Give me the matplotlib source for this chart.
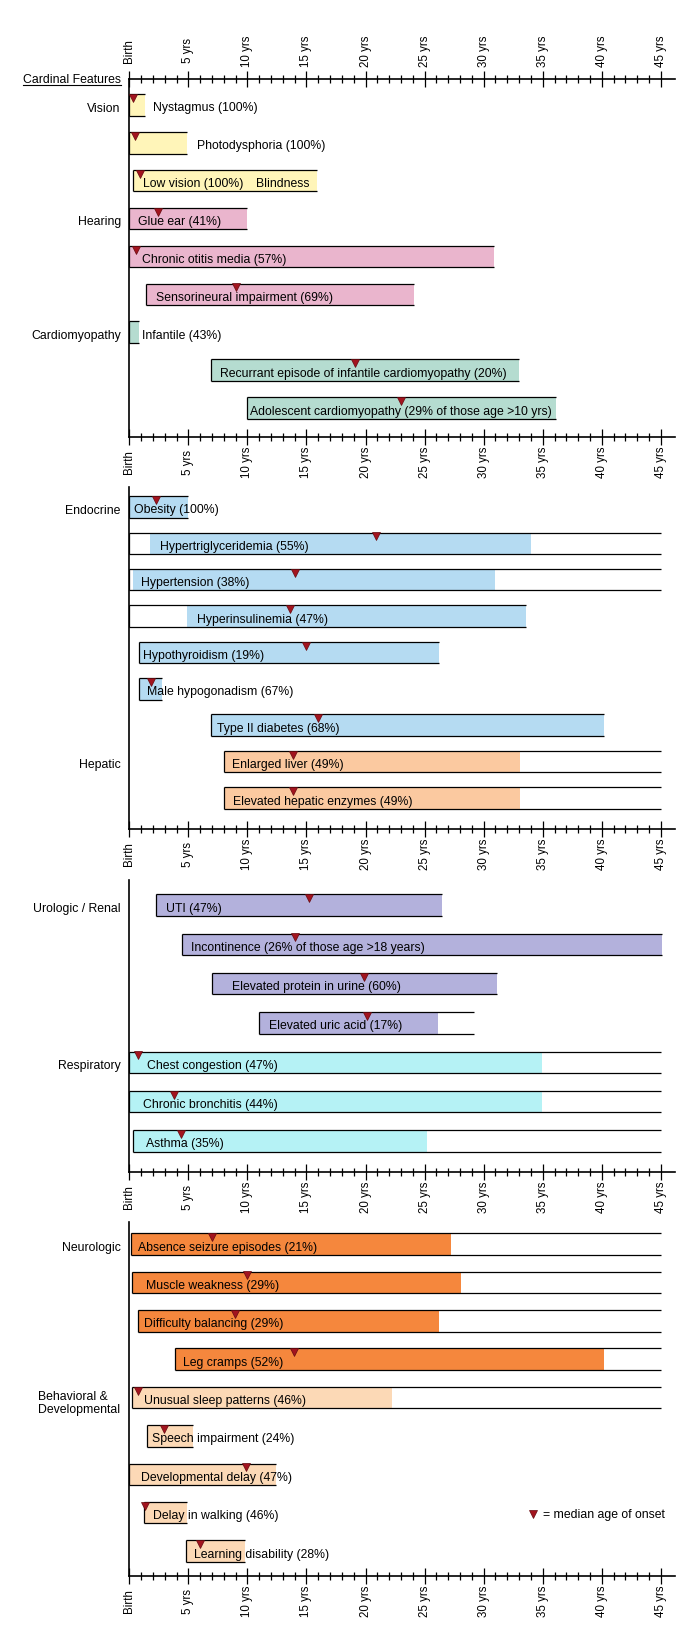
import matplotlib
matplotlib.use('Agg')
import matplotlib.pyplot as plt
import matplotlib.transforms as mtransforms
from matplotlib.lines import Line2D
import numpy as np

plt.rcParams['font.family'] = ['Liberation Sans', 'DejaVu Sans']

# ======================= DATA =======================
tick_values = [0, 5, 10, 15, 20, 25, 30, 35, 40, 45]
tick_labels = ['Birth', '5 yrs', '10 yrs', '15 yrs', '20 yrs', '25 yrs',
               '30 yrs', '35 yrs', '40 yrs', '45 yrs']
NA = np.nan

# Panel 1 - cardinal features
p1_labels = ['Nystagmus (100%)', 'Photodysphoria (100%)', 'Low vision (100%)',
             'Glue ear (41%)', 'Chronic otitis media (57%)', 'Sensorineural impairment (69%)',
             'Infantile (43%)', 'Recurrant episode of infantile cardiomyopathy (20%)',
             'Adolescent cardiomyopathy (29% of those age >10 yrs)']
p1_extra = ['', '', 'Blindness', '', '', '', '', '', '']
p1_groups = ['Vision', '', '', 'Hearing', '', '', 'Cardiomyopathy', '', '']
p1_line_start = [0, 0, 0.35, 0, 0, 1.4, 0, 6.9, 10.0]
p1_fill_start = [0, 0, 0.35, 0, 0, 1.4, 0, 6.9, 10.0]
p1_fill_end = [1.35, 4.9, 15.9, 9.95, 30.9, 24.1, 0.85, 33.0, 36.1]
p1_line_end = [1.35, 4.9, 15.9, 9.95, 30.9, 24.1, 0.85, 33.0, 36.1]
p1_median = [0.3, 0.5, 0.9, 2.4, 0.57, 9.0, NA, 19.1, 23.0]

# Panel 2 - endocrine / hepatic
p2_labels = ['Obesity (100%)', 'Hypertriglyceridemia (55%)', 'Hypertension (38%)',
             'Hyperinsulinemia (47%)', 'Hypothyroidism (19%)', 'Male hypogonadism (67%)',
             'Type II diabetes (68%)', 'Enlarged liver (49%)', 'Elevated hepatic enzymes (49%)']
p2_groups = ['Endocrine', '', '', '', '', '', '', 'Hepatic', '']
p2_line_start = [0, 0, 0, 0, 0.85, 0.85, 6.9, 8.04, 8.04]
p2_fill_start = [0, 1.75, 0.3, 4.9, 0.85, 0.85, 6.9, 8.04, 8.04]
p2_fill_end = [4.95, 34.0, 31.0, 33.6, 26.2, 2.8, 40.2, 33.1, 33.1]
p2_line_end = [4.95, 45, 45, 33.6, 26.2, 2.8, 40.2, 45, 45]
p2_median = [2.3, 20.9, 14.0, 13.6, 15.0, 1.8, 15.95, 13.9, 13.9]

# Panel 3 - urologic / respiratory
p3_labels = ['UTI (47%)', 'Incontinence (26% of those age >18 years)',
             'Elevated protein in urine (60%)', 'Elevated uric acid (17%)',
             'Chest congestion (47%)', 'Chronic bronchitis (44%)', 'Asthma (35%)']
p3_groups = ['Urologic / Renal', '', '', '', 'Respiratory', '', '']
p3_line_start = [2.3, 4.5, 7.0, 11.0, 0, 0, 0.3]
p3_fill_start = [2.3, 4.5, 7.0, 11.0, 0.1, 0, 0.3]
p3_fill_end = [26.5, 45.1, 31.1, 26.1, 34.9, 34.9, 25.2]
p3_line_end = [26.5, 45.1, 31.1, 29.2, 45, 45, 45]
p3_median = [15.2, 14.0, 19.9, 20.1, 0.76, 3.8, 4.35]

# Panel 4 - neurologic / behavioral
p4_labels = ['Absence seizure episodes (21%)', 'Muscle weakness (29%)',
             'Difficulty balancing (29%)', 'Leg cramps (52%)',
             'Unusual sleep patterns (46%)', 'Speech impairment (24%)',
             'Developmental delay (47%)', 'Delay in walking (46%)',
             'Learning disability (28%)']
p4_groups = ['Neurologic', '', '', '', 'Behavioral &\nDevelopmental', '', '', '', '']
p4_line_start = [0.17, 0.25, 0.76, 3.9, 0.25, 1.5, 0, 1.24, 4.8]
p4_fill_start = [0.17, 0.25, 0.76, 3.9, 0.25, 1.5, 0, 1.24, 4.8]
p4_fill_end = [27.2, 28.1, 26.2, 40.2, 22.2, 5.4, 12.4, 4.86, 9.8]
p4_line_end = [45, 45, 45, 45, 45, 5.4, 12.4, 4.86, 9.8]
p4_median = [7.0, 9.94, 8.98, 13.95, 0.76, 2.9, 9.85, 1.33, 6.0]

legend_label = '= median age of onset'

# ======================= LAYOUT / STYLE =======================
W, H, DPI = 689, 1644, 100
X0_PX, X1_PX = 129.3, 675.0
XMAX = 46.2
BAR_PX = 21.5
FS = 8.85
TICK_FS = 8.3
TEXT_DROP = 6.5
MARKER_PX = 7.6

YELLOW, PINK, GREEN = '#FFF5B9', '#EAB5CD', '#B5DCD0'
BLUE, PEACH = '#B5DBF2', '#FBC9A0'
LAV, CYAN = '#B3B1DC', '#B5F2F5'
ORANGE, PALE = '#F5873D', '#FCD9B6'
MRED, MEDGE = '#A3141F', '#660A10'

p1_colors = [YELLOW] * 3 + [PINK] * 3 + [GREEN] * 3
p2_colors = [BLUE] * 7 + [PEACH] * 2
p3_colors = [LAV] * 4 + [CYAN] * 3
p4_colors = [ORANGE] * 4 + [PALE] * 5

# label x positions (yrs)
p1_text_x = [1.98, 5.7, 1.16, 0.76, 1.05, 2.24, 1.1, 7.7, 10.2]
p1_extra_x = [0, 0, 10.73, 0, 0, 0, 0, 0, 0]
p2_text_x = [0.42, 2.62, 1.02, 5.7, 1.19, 1.47, 7.45, 8.72, 8.8]
p3_text_x = [3.08, 5.22, 8.67, 11.85, 1.47, 1.13, 1.41]
p4_text_x = [0.71, 1.44, 1.24, 4.57, 1.27, 1.9, 1.02, 2.03, 5.5]

# panel geometry in px: top, bottom, first row centre, last row centre
P1_GEOM = (79, 437, 105, 408)
P2_GEOM = (487, 829, 507, 798)
P3_GEOM = (880, 1172, 905, 1141)
P4_GEOM = (1222, 1576, 1244, 1551)

fig = plt.figure(figsize=(W / DPI, H / DPI), dpi=DPI)


def px_off(dx, dy):
    return mtransforms.ScaledTranslation(dx / DPI, dy / DPI, fig.dpi_scale_trans)


def style_xaxis(axis_obj, pad_px):
    axis_obj.set_xticks(tick_values)
    axis_obj.set_xticklabels(tick_labels, rotation=90, fontsize=TICK_FS)
    axis_obj.set_xticks([v for v in range(0, 46) if v % 5], minor=True)
    pad = pad_px * 0.72 - 5.76
    kw = dict(direction='inout', width=0.9, color='black')
    axis_obj.tick_params(axis='x', which='major', length=11.52, pad=pad, **kw)
    axis_obj.tick_params(axis='x', which='minor', length=5.76, **kw)
    for lab in axis_obj.get_xticklabels():
        lab.set_va('center')


def draw_panel(geom, labels, ls, fs, fe, le, med, groups, colors, text_x,
               extra=None, extra_x=None, top_axis=False):
    top, bot, first, last = geom
    n = len(labels)
    s = (last - first) / (n - 1)
    ax = fig.add_axes([X0_PX / W, 1 - bot / H, (X1_PX - X0_PX) / W, (bot - top) / H])
    ax.set_xlim(0, XMAX)
    ax.set_ylim((n - 1) + (bot - last) / s, -(first - top) / s)
    h = BAR_PX / s
    y = np.arange(n)
    ls, fs, fe, le = map(np.asarray, (ls, fs, fe, le))

    ax.barh(y, fe - fs, left=fs, height=h, color=colors, lw=0, zorder=2)
    ax.hlines(np.concatenate([y - h / 2, y + h / 2]), np.tile(ls, 2), np.tile(le, 2),
              color='black', lw=0.9, zorder=3)
    ax.vlines(ls, y - h / 2, y + h / 2, color='black', lw=0.9, zorder=3)

    ttr = ax.transData + px_off(0, -TEXT_DROP)
    for i in range(n):
        ax.text(text_x[i], y[i], labels[i], transform=ttr, va='baseline', ha='left',
                fontsize=FS, zorder=4)
        if extra is not None and extra[i]:
            ax.text(extra_x[i], y[i], extra[i], transform=ttr, va='baseline', ha='left',
                    fontsize=FS, zorder=4)

    mtr = ax.transData + px_off(0, -MARKER_PX / 2)
    ax.plot(med, y - h / 2, ls='none', marker='v', ms=MARKER_PX * 0.72,
            mfc=MRED, mec=MEDGE, mew=0.5, transform=mtr, zorder=5, clip_on=False)

    gtr = ax.get_yaxis_transform()
    for i, g in enumerate(groups):
        if not g:
            continue
        if '\n' in g:
            ax.text(0, y[i], g, transform=gtr + px_off(-9.5, -6), ha='right', va='center',
                    multialignment='left', fontsize=FS, linespacing=1.22)
        else:
            ax.text(0, y[i], g, transform=gtr + px_off(-8.5, -TEXT_DROP), ha='right',
                    va='baseline', fontsize=FS)

    for sp in ('right', 'top'):
        ax.spines[sp].set_visible(False)
    ax.spines['left'].set_linewidth(1.2)
    ax.spines['bottom'].set_linewidth(1.2)
    ax.set_yticks([])
    style_xaxis(ax, 25)

    if top_axis:
        sec = ax.secondary_xaxis('top')
        sec.spines['top'].set_linewidth(1.2)
        style_xaxis(sec, 28)
    return ax


ax1 = draw_panel(P1_GEOM, p1_labels, p1_line_start, p1_fill_start, p1_fill_end,
                 p1_line_end, p1_median, p1_groups, p1_colors, p1_text_x,
                 extra=p1_extra, extra_x=p1_extra_x, top_axis=True)
ax2 = draw_panel(P2_GEOM, p2_labels, p2_line_start, p2_fill_start, p2_fill_end,
                 p2_line_end, p2_median, p2_groups, p2_colors, p2_text_x)
ax3 = draw_panel(P3_GEOM, p3_labels, p3_line_start, p3_fill_start, p3_fill_end,
                 p3_line_end, p3_median, p3_groups, p3_colors, p3_text_x)
ax4 = draw_panel(P4_GEOM, p4_labels, p4_line_start, p4_fill_start, p4_fill_end,
                 p4_line_end, p4_median, p4_groups, p4_colors, p4_text_x)

# "Cardinal Features" heading with underline
cf = fig.text(121 / W, 1 - 83 / H, 'Cardinal Features', ha='right', va='baseline', fontsize=FS)
fig.canvas.draw()
bb = cf.get_window_extent()
uy = H - 84.8
fig.add_artist(Line2D([bb.x0 / W, bb.x1 / W], [uy / H, uy / H], color='black', lw=0.8,
                      transform=fig.transFigure))

# legend
handle = Line2D([], [], ls='none', marker='v', ms=MARKER_PX * 0.72, mfc=MRED, mec=MEDGE,
                mew=0.5, label=legend_label)
fig.legend(handles=[handle], loc='center right', bbox_to_anchor=(665 / W, 1 - 1515 / H),
           frameon=False, fontsize=FS, handlelength=1.0, handletextpad=0.3,
           borderpad=0, borderaxespad=0)

fig.savefig('out.png', dpi=DPI)
